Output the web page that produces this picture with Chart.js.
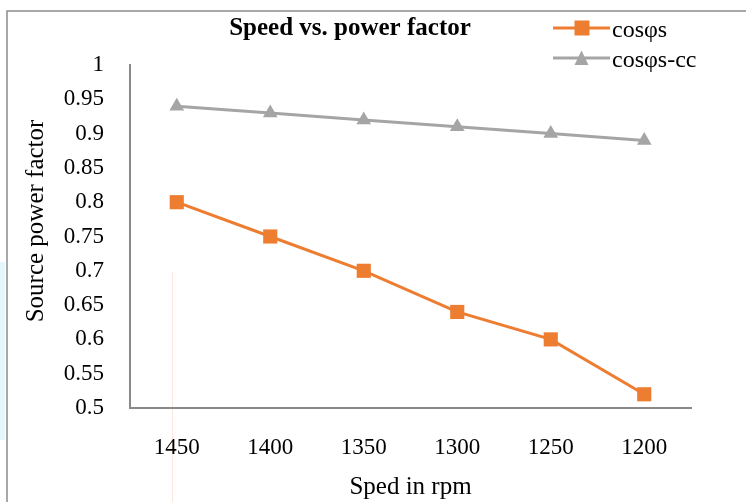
<!DOCTYPE html>
<html>
<head>
<meta charset="utf-8">
<script src="https://cdn.jsdelivr.net/npm/chart.js@4.4.1/dist/chart.umd.min.js"></script>
<style>
  html, body { margin: 0; padding: 0; background: #fff; }
  #wrap { width: 746px; height: 502px; position: relative; }
</style>
</head>
<body>
<div id="wrap"><canvas id="c" width="746" height="502"></canvas></div>
<script>
const categories = ['1450', '1400', '1350', '1300', '1250', '1200'];
const cosPhiS = [0.80, 0.75, 0.70, 0.64, 0.60, 0.52];
const cosPhiSCC = [0.94, 0.93, 0.92, 0.91, 0.90, 0.89];
const seriesNames = ['cosφs', 'cosφs-cc'];
const chartTitle = 'Speed vs. power factor';
const xTitle = 'Sped in rpm';
const yTitle = 'Source power factor';

const ORANGE = '#ED7D31';
const GRAY = '#A5A5A5';
const FONT = '"Liberation Serif", "Times New Roman", serif';

const decor = {
  id: 'decor',
  beforeDraw(chart) {
    const ctx = chart.ctx;
    ctx.save();
    ctx.fillStyle = '#e4f8fb';
    ctx.fillRect(0, 262, 5, 178);
    ctx.strokeStyle = '#8c8c8c';
    ctx.lineWidth = 1.5;
    ctx.strokeRect(7, 11, 800, 600);
    ctx.strokeStyle = 'rgba(237,125,49,0.18)';
    ctx.lineWidth = 1;
    ctx.beginPath();
    ctx.moveTo(172.5, 272);
    ctx.lineTo(172.5, 502);
    ctx.stroke();
    ctx.restore();
  },
  afterDraw(chart) {
    const ctx = chart.ctx;
    ctx.save();
    ctx.fillStyle = '#000';
    // chart title
    ctx.font = 'bold 25px ' + FONT;
    ctx.textAlign = 'center';
    ctx.textBaseline = 'alphabetic';
    ctx.fillText(chartTitle, 350, 35);
    // y axis title
    ctx.save();
    ctx.translate(36, 221);
    ctx.rotate(-Math.PI / 2);
    ctx.font = '25px ' + FONT;
    ctx.textAlign = 'center';
    ctx.textBaseline = 'middle';
    ctx.fillText(yTitle, 0, 0);
    ctx.restore();
    // legend
    ctx.font = '24px ' + FONT;
    ctx.textAlign = 'left';
    ctx.textBaseline = 'alphabetic';
    chart.data.datasets.forEach((ds, i) => {
      const y = 28 + i * 30;
      ctx.strokeStyle = ds.borderColor;
      ctx.lineWidth = 3;
      ctx.beginPath();
      ctx.moveTo(553, y);
      ctx.lineTo(610, y);
      ctx.stroke();
      ctx.fillStyle = ds.backgroundColor;
      if (ds.pointStyle === 'rect') {
        ctx.fillRect(574.5, y - 7.5, 15, 15);
      } else {
        ctx.beginPath();
        ctx.moveTo(581.5, y - 7.5);
        ctx.lineTo(588.5, y + 7);
        ctx.lineTo(574.5, y + 7);
        ctx.closePath();
        ctx.fill();
      }
      ctx.fillStyle = '#000';
      ctx.fillText(ds.label, 612, y + 9);
    });
    ctx.restore();
  }
};

new Chart(document.getElementById('c'), {
  type: 'line',
  data: {
    labels: categories,
    datasets: [
      {
        label: seriesNames[0],
        data: cosPhiS,
        borderColor: ORANGE,
        backgroundColor: ORANGE,
        borderWidth: 3,
        pointStyle: 'rect',
        pointRadius: 10,
        pointHoverRadius: 10,
        pointBorderWidth: 0,
        tension: 0
      },
      {
        label: seriesNames[1],
        data: cosPhiSCC,
        borderColor: GRAY,
        backgroundColor: GRAY,
        borderWidth: 3,
        pointStyle: 'triangle',
        pointRadius: 8.5,
        pointHoverRadius: 8.5,
        pointBorderWidth: 0,
        tension: 0
      }
    ]
  },
  options: {
    responsive: false,
    animation: false,
    devicePixelRatio: 1,
    layout: { padding: { left: 10, top: 65, right: 55, bottom: 0 } },
    plugins: {
      legend: { display: false },
      title: { display: false },
      tooltip: { enabled: false }
    },
    scales: {
      x: {
        type: 'category',
        offset: true,
        grid: { display: false, drawTicks: false },
        border: { display: true, color: '#898989', width: 2 },
        ticks: {
          color: '#000',
          font: { family: FONT, size: 23 },
          padding: 26,
          maxRotation: 0
        },
        title: {
          display: true,
          text: xTitle,
          color: '#000',
          font: { family: FONT, size: 25 },
          padding: { top: 0, bottom: 0 }
        },
        afterFit(scale) { scale.height = 94; }
      },
      y: {
        min: 0.5,
        max: 1,
        grid: { display: false, drawTicks: false },
        border: { display: true, color: '#898989', width: 2 },
        ticks: {
          stepSize: 0.05,
          color: '#000',
          font: { family: FONT, size: 23 },
          padding: 26,
          callback: (v) => String(Math.round(v * 100) / 100)
        },
        title: { display: false },
        afterFit(scale) { scale.width = 120; }
      }
    }
  },
  plugins: [decor]
});
</script>
</body>
</html>
